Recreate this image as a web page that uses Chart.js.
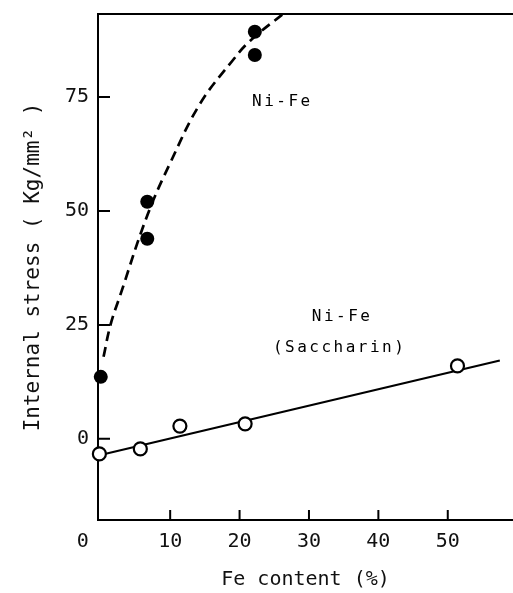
<!DOCTYPE html>
<html><head><meta charset="utf-8">
<style>html,body{margin:0;padding:0;background:#fff;}#wrap{width:513px;height:593px;}</style>
<script src="https://cdn.jsdelivr.net/npm/chart.js@4.4.0/dist/chart.umd.min.js"></script>
</head><body><div id="wrap"><canvas id="c" width="513" height="593"></canvas></div>
<script>
// ---- data ----
const xTicks = [0, 10, 20, 30, 40, 50];
const yTicks = [0, 25, 50, 75];
// Ni-Fe (filled circles)
const filledX = [0, 6.7, 6.7, 22.2, 22.2];
const filledY = [13.6, 52, 43.9, 89.3, 84.2];
// Ni-Fe (Saccharin) (open circles)
const openX = [-0.2, 5.7, 11.4, 20.8, 51.4];
const openY = [-3.3, -2.2, 2.8, 3.3, 16];
// dashed trend curve through Ni-Fe
const curveX = [0.4, 1.4, 2.8, 6.7, 10, 14.3, 19, 21.5, 26.5];
const curveY = [18, 25, 31.5, 49, 60.5, 73.5, 83, 87.3, 93.5];
// solid fit line through Ni-Fe (Saccharin)
const fitX = [-0.2, 57.5];
const fitY = [-3.6, 17.2];
// text labels
const labelText = ['Ni-Fe', 'Ni-Fe', '(Saccharin)'];
const labelX = [21.8, 30.4, 24.8];
const labelY = [73.9, 26.8, 20];

const pts = (xs, ys) => xs.map((x, i) => ({x: x, y: ys[i]}));
const FONT = "'DejaVu Sans Mono', monospace";
Chart.defaults.font.family = FONT;
Chart.defaults.color = '#111';

const deco = {
  id: 'deco',
  afterDraw(chart) {
    const {ctx, chartArea: a, scales: {x, y}} = chart;
    ctx.save();
    ctx.strokeStyle = '#000';
    ctx.lineWidth = 2;
    ctx.beginPath();
    ctx.moveTo(a.left - 1, a.top);
    ctx.lineTo(a.right, a.top);
    yTicks.forEach(v => {
      const p = y.getPixelForValue(v);
      ctx.moveTo(a.left, p); ctx.lineTo(a.left + 12, p);
    });
    xTicks.forEach(v => {
      if (v === 0) return;
      const p = x.getPixelForValue(v);
      ctx.moveTo(p, a.bottom); ctx.lineTo(p, a.bottom - 10);
    });
    ctx.stroke();
    ctx.fillStyle = '#000';
    ctx.font = "16px " + FONT;
    ctx.letterSpacing = '2.5px';
    ctx.textBaseline = 'middle';
    ctx.textAlign = 'left';
    labelText.forEach((t, i) => {
      ctx.fillText(t, x.getPixelForValue(labelX[i]), y.getPixelForValue(labelY[i]));
    });
    ctx.restore();
  }
};

new Chart(document.getElementById('c'), {
  type: 'scatter',
  data: {
    datasets: [
      {data: pts(filledX, filledY), pointRadius: 7, pointBackgroundColor: '#000', pointBorderWidth: 0, showLine: false, clip: false},
      {data: pts(openX, openY), pointRadius: 6.5, pointBackgroundColor: '#fff', pointBorderColor: '#000', pointBorderWidth: 2.2, showLine: false, clip: false},
      {data: pts(fitX, fitY), showLine: true, pointRadius: 0, borderColor: '#000', borderWidth: 2.2},
      {data: pts(curveX, curveY), showLine: true, pointRadius: 0, borderColor: '#000', borderWidth: 2.7, borderDash: [10, 6], tension: 0.4}
    ]
  },
  options: {
    responsive: false,
    animation: false,
    events: [],
    layout: {autoPadding: false, padding: {top: 14, right: 0, bottom: 0, left: 0}},
    plugins: {legend: {display: false}, tooltip: {enabled: false}},
    scales: {
      x: {
        type: 'linear', min: -0.4, max: 59.4,
        afterBuildTicks: s => { s.ticks = xTicks.map(v => ({value: v})); },
        afterFit: s => { s.height = 73; s.paddingLeft = 0; s.paddingRight = 0; },
        grid: {display: true, drawOnChartArea: false, drawTicks: false},
        border: {display: true, color: '#000', width: 2},
        ticks: {font: {size: 20}, padding: 10, maxRotation: 0, autoSkip: false, color: '#111',
                callback: v => (v === 0 ? '0   ' : String(v))},
        title: {display: true, text: 'Fe content (%)', font: {size: 20}, color: '#111', padding: {top: 0, bottom: 1}}
      },
      y: {
        type: 'linear', min: -17.8, max: 93.2,
        afterBuildTicks: s => { s.ticks = yTicks.map(v => ({value: v})); },
        afterFit: s => { s.width = 98; s.paddingTop = 0; s.paddingBottom = 0; },
        grid: {display: true, drawOnChartArea: false, drawTicks: false},
        border: {display: true, color: '#000', width: 2},
        ticks: {font: {size: 20}, padding: 9, color: '#111'},
        title: {display: true, text: 'Internal stress ( Kg/mm\u00B2 )', font: {size: 21}, color: '#111', padding: {top: 21, bottom: 0}}
      }
    }
  },
  plugins: [deco]
});
</script></body></html>
